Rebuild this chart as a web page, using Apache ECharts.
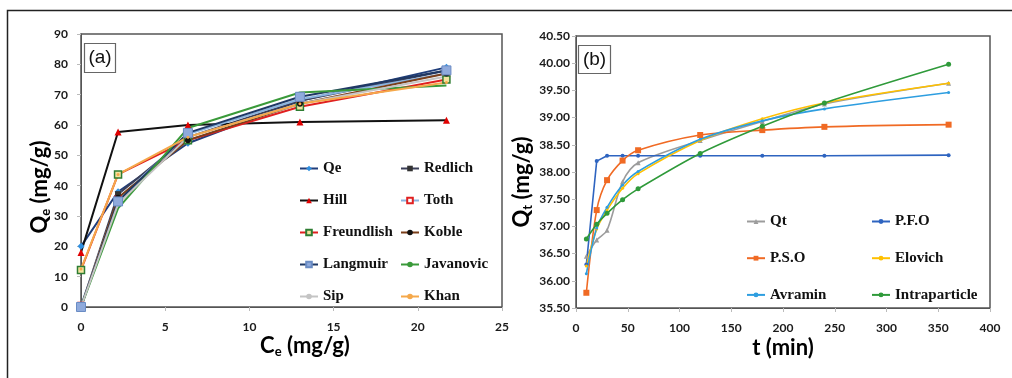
<!DOCTYPE html>
<html>
<head>
<meta charset="utf-8">
<script src="https://cdn.jsdelivr.net/npm/echarts@6/dist/echarts.min.js"></script>
<style>
  html, body { margin: 0; padding: 0; background: #fff; }
  #chart { width: 1012px; height: 378px; }
</style>
</head>
<body>
<div id="chart"></div>
<script>
// (a) isotherm data
const ce = [0, 2.2, 6.35, 13, 21.7];
const qe = [20, 38, 54, 68, 79];
const redlich = [0, 37.2, 56, 68, 78];
const hill = [18, 57.7, 60, 61, 61.6];
const toth = [0.5, 35.5, 57, 68.5, 77];
const freundlish = [12.2, 43.7, 55, 66, 75];
const koble = [0, 36, 55, 67, 77];
const langmuir = [0, 34.8, 57.4, 69.3, 78];
const javanovic = [0, 32.5, 59, 70.7, 73];
const sip = [0, 34, 56, 67, 76];
const khan = [12.5, 43.7, 56, 67, 74];

// (b) kinetics data
const time = [10, 20, 30, 45, 60, 120, 180, 240, 360];
const qt = [36.45, 36.75, 36.93, 37.82, 38.17, 38.58, 38.93, 39.25, 39.63];
const pfo = [36.3, 38.2, 38.3, 38.3, 38.3, 38.3, 38.3, 38.3, 38.31];
const pso = [35.78, 37.3, 37.85, 38.21, 38.4, 38.68, 38.77, 38.83, 38.87];
const elovich = [36.27, 36.95, 37.3, 37.7, 37.97, 38.58, 38.98, 39.27, 39.63];
const avramin = [36.13, 36.97, 37.35, 37.76, 38.01, 38.6, 38.94, 39.16, 39.46];
const intra = [36.77, 37.04, 37.24, 37.49, 37.69, 38.34, 38.84, 39.27, 39.98];

const zip = (xs, ys) => xs.map((x, i) => [x, ys[i]]);

const chart = echarts.init(document.getElementById('chart'));

// helper for the (a) series
function isoSeries(name, ys, line, symbol, itemStyle, size) {
  return {
    name: name, type: 'line', xAxisIndex: 0, yAxisIndex: 0,
    data: zip(ce, ys),
    symbol: symbol, symbolSize: size || 6, showSymbol: symbol !== 'none',
    lineStyle: { color: line, width: 2 },
    itemStyle: itemStyle || { color: line },
    emphasis: { disabled: true }
  };
}
function kinSeries(name, ys, color, symbol, size, smooth) {
  return {
    name: name, type: 'line', xAxisIndex: 1, yAxisIndex: 1,
    data: zip(time, ys),
    symbol: symbol, symbolSize: size,
    smooth: smooth,
    lineStyle: { color: color, width: 1.6 },
    itemStyle: { color: color },
    emphasis: { disabled: true }
  };
}

const tickFont = { fontFamily: 'Lato', fontWeight: 'bold', fontSize: 12, color: '#1a1a1a' };
const legendFont = { fontFamily: '"Liberation Serif", "DejaVu Serif", serif', fontWeight: 'bold', fontSize: 15, color: '#111', lineHeight: 14 };
const nameRich = {
  m: { fontFamily: 'Lato', fontWeight: 'bold', fontSize: 22, color: '#111' },
  s: { fontFamily: 'Lato', fontWeight: 'bold', fontSize: 13, color: '#111', padding: [11, 0, 0, 0] }
};

const option = {
  animation: false,
  backgroundColor: '#fff',
  grid: [
    { left: 81, top: 34, width: 421, height: 273, show: true, borderColor: '#555', borderWidth: 1.5, backgroundColor: 'transparent' },
    { left: 576, top: 36, width: 414, height: 272, show: true, borderColor: '#555', borderWidth: 1.5, backgroundColor: 'transparent' }
  ],
  xAxis: [
    {
      type: 'value', gridIndex: 0, min: 0, max: 25, interval: 5,
      axisLine: { lineStyle: { color: '#555' } },
      axisTick: { show: true, length: 4, lineStyle: { color: '#bbb' } },
      axisLabel: Object.assign({ margin: 14 }, tickFont),
      splitLine: { show: false }
    },
    {
      type: 'value', gridIndex: 1, min: 0, max: 400, interval: 50,
      axisLine: { lineStyle: { color: '#555' } },
      axisTick: { show: true, length: 4, lineStyle: { color: '#bbb' } },
      axisLabel: Object.assign({ margin: 14 }, tickFont),
      splitLine: { show: false }
    }
  ],
  yAxis: [
    {
      type: 'value', gridIndex: 0, min: 0, max: 90, interval: 10,
      axisLine: { show: true, lineStyle: { color: '#555' } },
      axisTick: { show: true, length: 4, lineStyle: { color: '#bbb' } },
      axisLabel: Object.assign({ margin: 13 }, tickFont),
      splitLine: { show: false }
    },
    {
      type: 'value', gridIndex: 1, min: 35.5, max: 40.5, interval: 0.5,
      axisLine: { show: true, lineStyle: { color: '#555' } },
      axisTick: { show: true, length: 4, lineStyle: { color: '#bbb' } },
      axisLabel: Object.assign({ margin: 6, formatter: v => v.toFixed(2) }, tickFont),
      splitLine: { show: false }
    }
  ],
  legend: [
    { data: ['Qe', 'Hill', 'Freundlish', 'Langmuir', 'Sip'], orient: 'vertical', left: 294, top: 156,
      itemWidth: 18, itemHeight: 7, itemGap: 17, textStyle: legendFont, selectedMode: false },
    { data: ['Redlich', 'Toth', 'Koble', 'Javanovic', 'Khan'], orient: 'vertical', left: 395, top: 156,
      itemWidth: 18, itemHeight: 7, itemGap: 17, textStyle: legendFont, selectedMode: false },
    { data: ['Qt', 'P.S.O', 'Avramin'], orient: 'vertical', left: 741, top: 209,
      itemWidth: 18, itemHeight: 6, itemGap: 21.7, textStyle: legendFont, selectedMode: false },
    { data: ['P.F.O', 'Elovich', 'Intraparticle'], orient: 'vertical', left: 866, top: 209,
      itemWidth: 18, itemHeight: 6, itemGap: 21.7, textStyle: legendFont, selectedMode: false }
  ],
  graphic: [
    // outer figure frame
    { type: 'polyline', silent: true, shape: { points: [[7.5, 378], [7.5, 10.5], [1012, 10.5]] },
      style: { stroke: '#222', lineWidth: 1.5, fill: null } },
    // panel tags
    { type: 'rect', silent: true, z: 10, shape: { x: 84.5, y: 43.5, width: 31, height: 29 },
      style: { fill: '#fff', stroke: '#666', lineWidth: 1.2 } },
    { type: 'text', silent: true, z: 11, x: 100, y: 58,
      style: { text: '(a)', font: '19px "Liberation Sans"', fill: '#111', align: 'center', verticalAlign: 'middle' } },
    { type: 'rect', silent: true, z: 10, shape: { x: 578.5, y: 45.5, width: 32, height: 28 },
      style: { fill: '#fff', stroke: '#666', lineWidth: 1.2 } },
    { type: 'text', silent: true, z: 11, x: 594.5, y: 59.5,
      style: { text: '(b)', font: '19px "Liberation Sans"', fill: '#111', align: 'center', verticalAlign: 'middle' } },
    // axis titles
    { type: 'text', silent: true, x: 40, y: 187, rotation: Math.PI / 2,
      style: { text: '{m|Q}{s|e}{m| (mg/g)}', rich: nameRich, align: 'center', verticalAlign: 'middle' } },
    { type: 'text', silent: true, x: 305, y: 346,
      style: { text: '{m|C}{s|e}{m| (mg/g)}', rich: nameRich, align: 'center', verticalAlign: 'middle' } },
    { type: 'text', silent: true, x: 522, y: 182, rotation: Math.PI / 2,
      style: { text: '{m|Q}{s|t}{m| (mg/g)}', rich: nameRich, align: 'center', verticalAlign: 'middle' } },
    { type: 'text', silent: true, x: 783, y: 348,
      style: { text: '{m|t (min)}', rich: nameRich, align: 'center', verticalAlign: 'middle' } }
  ],
  series: [
    isoSeries('Qe', qe, '#1f3d7a', 'diamond', { color: '#2f8fe0' }, 7),
    isoSeries('Redlich', redlich, '#3b3f58', 'rect', { color: '#333' }, 6),
    isoSeries('Hill', hill, '#111', 'triangle', { color: '#e00000' }, 7),
    isoSeries('Toth', toth, '#8ab4e0', 'rect', { color: '#fff', borderColor: '#e02020', borderWidth: 1.5 }, 6),
    isoSeries('Freundlish', freundlish, '#e02020', 'rect', { color: '#f3e4a0', borderColor: '#2e7d32', borderWidth: 1.5 }, 7),
    isoSeries('Koble', koble, '#7b3f1a', 'circle', { color: '#111' }, 6),
    isoSeries('Langmuir', langmuir, '#1f3864', 'rect', { color: '#8faadc', borderColor: '#6a8cc4', borderWidth: 1 }, 9),
    isoSeries('Javanovic', javanovic, '#3a9a3a', 'none'),
    isoSeries('Sip', sip, '#c4c4c4', 'none'),
    isoSeries('Khan', khan, '#f5a84a', 'circle', { color: '#f5a84a' }, 3),

    kinSeries('Qt', qt, '#9c9c9c', 'triangle', 5, 0.3),
    kinSeries('P.F.O', pfo, '#2e64c0', 'circle', 4, false),
    kinSeries('P.S.O', pso, '#f06a24', 'rect', 6, 0.3),
    kinSeries('Elovich', elovich, '#ffc000', 'circle', 3, 0.3),
    kinSeries('Avramin', avramin, '#2e9ee0', 'circle', 3, 0.3),
    kinSeries('Intraparticle', intra, '#2f9a3a', 'circle', 5, 0.3)
  ]
};

chart.setOption(option);
</script>
</body>
</html>
